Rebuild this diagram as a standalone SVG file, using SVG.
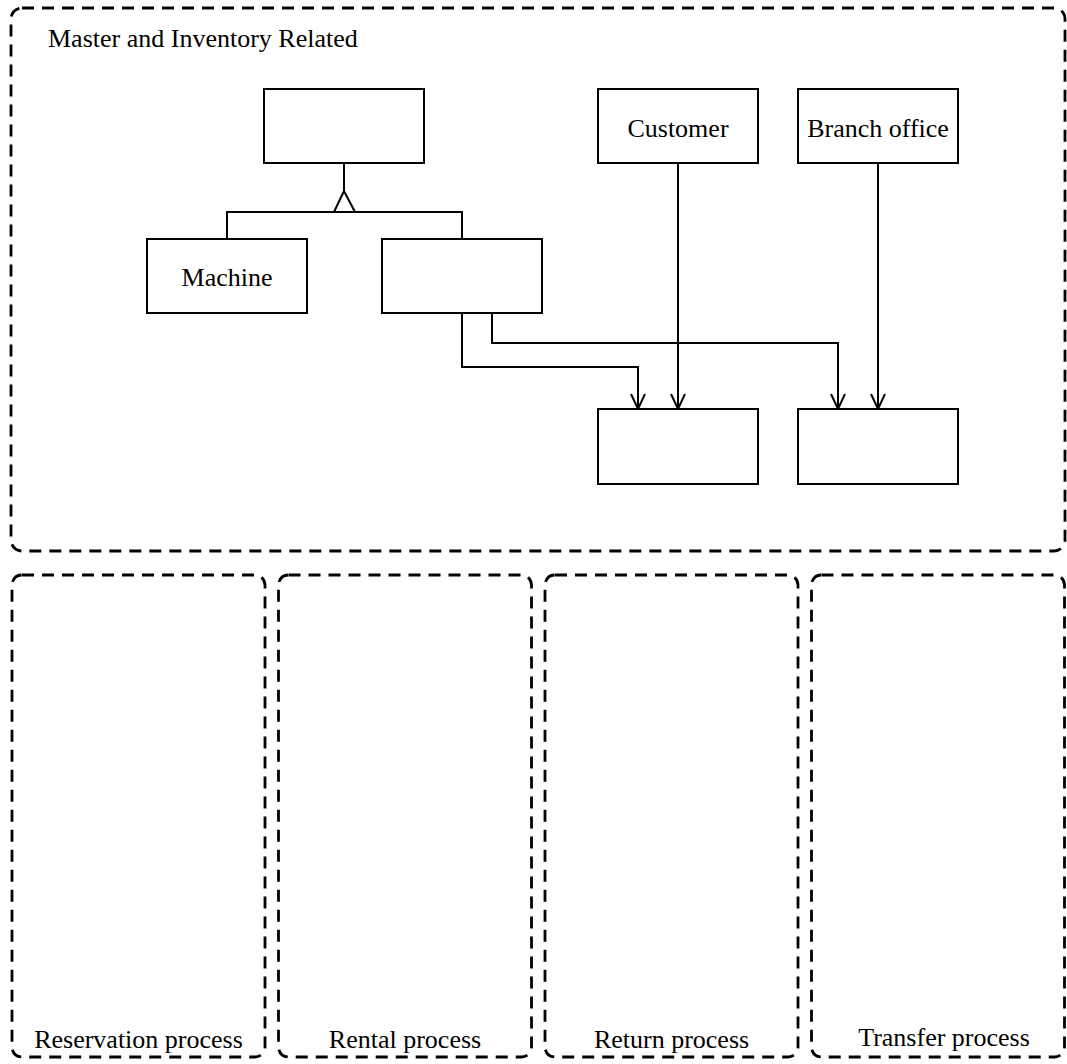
<svg xmlns="http://www.w3.org/2000/svg" width="1067" height="1064" viewBox="0 0 1067 1064">
<style>
.container{fill:none;stroke:#000;stroke-width:2.8;stroke-dasharray:12 8}
.box{fill:#fff;stroke:#000;stroke-width:2}
.conn{fill:none;stroke:#000;stroke-width:2}
text{font-family:"Liberation Serif","Times New Roman",serif;font-size:26px;fill:#000}
.c{text-anchor:middle}
</style>
<defs>
<marker id="open" markerUnits="userSpaceOnUse" markerWidth="20" markerHeight="20" viewBox="-17 -10 20 20" refX="0" refY="0" orient="auto">
<path d="M-15,-7 L0,0 L-15,7" fill="none" stroke="#000" stroke-width="2"/>
</marker>
</defs>
<rect width="1067" height="1064" fill="#fff"/>
<g id="master-group">
<rect class="container" x="11" y="8" width="1054" height="543" rx="11"/>
<text x="48" y="47">Master and Inventory Related</text>
</g>
<g id="reservation-group">
<rect class="container" x="12" y="575" width="253" height="482" rx="10"/>
<text class="c" x="138.5" y="1048">Reservation process</text>
</g>
<g id="rental-group">
<rect class="container" x="278.5" y="575" width="253" height="482" rx="10"/>
<text class="c" x="405" y="1048">Rental process</text>
</g>
<g id="return-group">
<rect class="container" x="545" y="575" width="253" height="482" rx="10"/>
<text class="c" x="671.5" y="1048">Return process</text>
</g>
<g id="transfer-group">
<rect class="container" x="811.5" y="575" width="253" height="482" rx="10"/>
<text class="c" x="944" y="1046">Transfer process</text>
</g>
<g id="connectors">
<path class="conn" d="M344,163 V191"/>
<path class="conn" d="M227,239 V212 H462 V239"/>
<path class="conn" d="M344,191 L334,212 H355 Z" fill="#fff"/>
<path class="conn" d="M462,313 V367 H638 V409" marker-end="url(#open)"/>
<path class="conn" d="M492,313 V343 H838 V409" marker-end="url(#open)"/>
<path class="conn" d="M678,163 V409" marker-end="url(#open)"/>
<path class="conn" d="M878,163 V409" marker-end="url(#open)"/>
</g>
<g id="super">
<rect class="box" x="264" y="89" width="160" height="74"/>
</g>
<g id="machine">
<rect class="box" x="147" y="239" width="160" height="74"/>
<text class="c" x="227" y="286">Machine</text>
</g>
<g id="sub2">
<rect class="box" x="382" y="239" width="160" height="74"/>
</g>
<g id="customer">
<rect class="box" x="598" y="89" width="160" height="74"/>
<text class="c" x="678" y="137">Customer</text>
</g>
<g id="branch">
<rect class="box" x="798" y="89" width="160" height="74"/>
<text class="c" x="878" y="137">Branch office</text>
</g>
<g id="target1">
<rect class="box" x="598" y="409" width="160" height="75"/>
</g>
<g id="target2">
<rect class="box" x="798" y="409" width="160" height="75"/>
</g>
</svg>
